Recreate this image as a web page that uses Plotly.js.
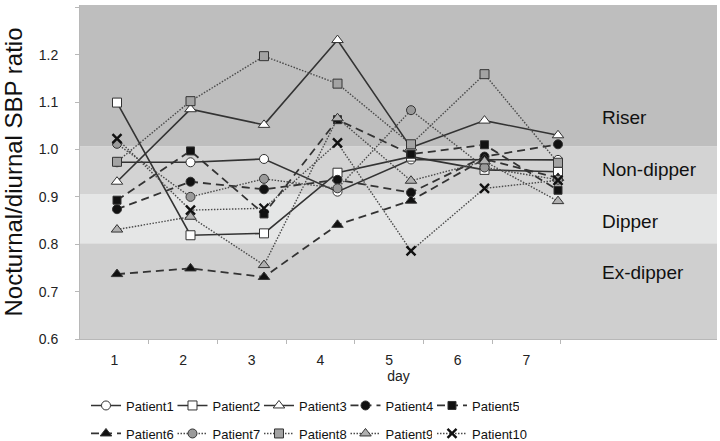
<!DOCTYPE html>
<html><head><meta charset="utf-8">
<script src="https://cdn.plot.ly/plotly-3.0.1.min.js"></script>
<style>html,body{margin:0;padding:0;background:#fff}</style>
</head><body><div id="chart" style="width:720px;height:441px"></div>
<script>
// ---- data ----
const days = [1, 2, 3, 4, 5, 6, 7];
const dayLabels = ['1', '2', '3', '4', '5', '6', '7'];
const patientNames = ['Patient1','Patient2','Patient3','Patient4','Patient5','Patient6','Patient7','Patient8','Patient9','Patient10'];
const patient1  = [0.973, 0.973, 0.980, 0.911, 0.979, 0.978, 0.978];
const patient2  = [1.099, 0.819, 0.823, 0.951, 0.985, 0.957, 0.953];
const patient3  = [0.932, 1.085, 1.052, 1.231, 1.004, 1.061, 1.030];
const patient4  = [0.874, 0.932, 0.916, 0.936, 0.909, 0.985, 1.011];
const patient5  = [0.893, 0.997, 0.864, 1.063, 0.990, 1.010, 0.914];
const patient6  = [0.737, 0.749, 0.731, 0.841, 0.892, 0.980, 0.940];
const patient7  = [1.012, 0.900, 0.938, 0.918, 1.083, 0.962, 0.936];
const patient8  = [0.974, 1.102, 1.197, 1.139, 1.011, 1.159, 0.972];
const patient9  = [0.831, 0.858, 0.756, 1.066, 0.934, 0.975, 0.891];
const patient10 = [1.023, 0.872, 0.876, 1.014, 0.786, 0.918, 0.935];
const patientValues = [patient1, patient2, patient3, patient4, patient5, patient6, patient7, patient8, patient9, patient10];
const bandNames = ['Ex-dipper', 'Dipper', 'Non-dipper', 'Riser'];
const bandEdges = [0.6, 0.802, 0.906, 1.007, 1.305];

// ---- styles ----
const FONT = 'Liberation Sans, Arial, Helvetica, sans-serif';
const bandColors = ['#cfcfcf', '#e5e6e6', '#d3d3d3', '#bebebe'];
const bandLabelY = [0.741, 0.849, 0.957, 1.068];
const solid = {dash: 'solid', width: 1.6, color: '#333333'};
const dashed = {dash: '8px,5px', width: 1.8, color: '#333333'};
const dotted = {dash: '1.5px,1.5px', width: 1.4, color: '#4a4a4a'};
const styles = [
  {line: solid,  symbol: 'circle',        fill: '#ffffff', size: 9},
  {line: solid,  symbol: 'square',        fill: '#ffffff', size: 9},
  {line: solid,  symbol: 'triangle-up',   fill: '#ffffff', size: 10},
  {line: dashed, symbol: 'circle',        fill: '#111111', size: 9},
  {line: dashed, symbol: 'square',        fill: '#111111', size: 8},
  {line: dashed, symbol: 'triangle-up',   fill: '#111111', size: 10},
  {line: dotted, symbol: 'circle',        fill: '#9a9a9a', size: 9},
  {line: dotted, symbol: 'square',        fill: '#a3a3a3', size: 9},
  {line: dotted, symbol: 'triangle-up',   fill: '#b0b0b0', size: 10},
  {line: dotted, symbol: 'x-thin-open',   fill: '#111111', size: 9}
];
const legendOf = ['legend','legend','legend','legend','legend','legend2','legend2','legend2','legend2','legend3'];

const traces = patientValues.map((vals, i) => {
  const s = styles[i];
  const isX = s.symbol === 'x-thin-open';
  return {
    type: 'scatter', mode: 'lines+markers',
    x: days, y: vals, name: patientNames[i],
    xaxis: 'x', yaxis: 'y',
    legend: legendOf[i],
    line: s.line,
    marker: {symbol: s.symbol, size: s.size, color: s.fill,
      line: {color: isX ? '#111111' : '#333333', width: isX ? 2.4 : 1}},
    hoverinfo: 'x+y+name'
  };
});
// empty helper trace so the labelled day axis gets drawn
traces.push({type: 'scatter', mode: 'none', x: days, y: days.map(() => null),
  xaxis: 'x2', yaxis: 'y', showlegend: false, hoverinfo: 'skip'});

const shapes = bandNames.map((n, i) => ({
  type: 'rect', xref: 'paper', yref: 'y', x0: 0, x1: 1,
  y0: bandEdges[i], y1: bandEdges[i + 1],
  fillcolor: bandColors[i], line: {width: 0}, layer: 'below'
}));

const annotations = bandNames.map((n, i) => ({
  text: n, xref: 'paper', yref: 'y', x: 0.8163, y: bandLabelY[i],
  xanchor: 'left', yanchor: 'middle', showarrow: false,
  font: {family: FONT, size: 19, color: '#111111'}
}));

const legendBase = {
  orientation: 'h', xref: 'paper', yref: 'container', xanchor: 'left', yanchor: 'top',
  x: 0.0094, entrywidth: 41.5, entrywidthmode: 'pixels',
  font: {family: FONT, size: 13, color: '#111111'},
  bgcolor: 'rgba(0,0,0,0)', borderwidth: 0, traceorder: 'normal'
};

const layout = {
  width: 720, height: 441,
  margin: {l: 80, r: 3, t: 5, b: 102},
  paper_bgcolor: '#ffffff', plot_bgcolor: '#ffffff',
  font: {family: FONT, size: 14, color: '#222222'},
  showlegend: true,
  legend: Object.assign({}, legendBase, {y: 0.1145}),
  legend2: Object.assign({}, legendBase, {y: 0.051}),
  legend3: Object.assign({}, legendBase, {y: 0.051, x: 0.5526, entrywidth: 0}),
  xaxis: {range: [0.4966, 9.163], visible: false, fixedrange: true},
  xaxis2: {
    overlaying: 'x', anchor: 'y', side: 'bottom', range: [0.5, 9.775],
    tickmode: 'array', tickvals: days, ticktext: dayLabels, ticks: '',
    showline: true, linecolor: '#b8b8b8', linewidth: 1,
    showgrid: false, zeroline: false, ticklabelstandoff: 8,
    minor: {tickmode: 'array', tickvals: days.map(d => d + 0.5), ticks: 'outside', ticklen: 4, tickcolor: '#b8b8b8', tickwidth: 1, showgrid: false},
    tickfont: {family: FONT, size: 14, color: '#222222'},
    title: {text: 'day', font: {family: FONT, size: 14, color: '#222222'}, standoff: 4}
  },
  yaxis: {
    range: [0.6, 1.305], tick0: 0.6, dtick: 0.1, tickformat: '.1f',
    ticks: 'outside', ticklen: 4, tickcolor: '#b8b8b8',
    showline: true, linecolor: '#b8b8b8', linewidth: 1,
    showgrid: false, zeroline: false, ticklabelstandoff: 14,
    tickfont: {family: FONT, size: 14, color: '#222222'},
    title: {text: 'Nocturnal/diurnal SBP ratio', font: {family: FONT, size: 24, color: '#111111'}, standoff: 10}
  },
  shapes: shapes,
  annotations: annotations
};

Plotly.newPlot('chart', traces, layout, {staticPlot: true, displayModeBar: false});
</script>
</body></html>
